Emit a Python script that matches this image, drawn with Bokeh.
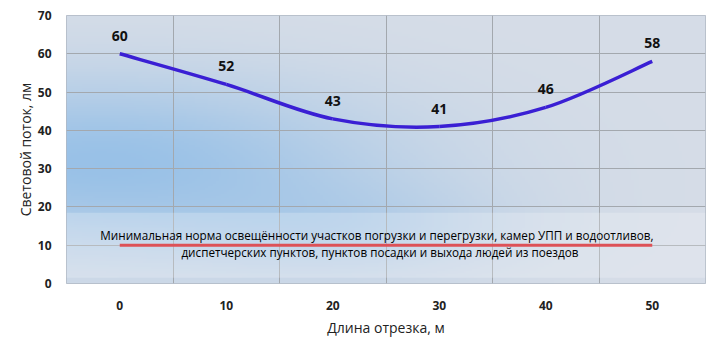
import numpy as np
from bokeh.plotting import figure
from bokeh.models import FixedTicker, Range1d, BoxAnnotation, ColumnDataSource, Label
from bokeh.core.properties import value
from bokeh.embed import file_html
from bokeh.resources import INLINE

# ---- data ----
lengths = [0, 10, 20, 30, 40, 50]
flux = [60, 52, 43, 41, 46, 58]
norm_value = 10
x_ticks = [0, 10, 20, 30, 40, 50]
y_ticks = [0, 10, 20, 30, 40, 50, 60, 70]
x_label = "Длина отрезка, м"
y_label = "Световой поток, лм"
note_line1 = "Минимальная  норма освещённости  участков  погрузки  и перегрузки, камер  УПП  и водоотливов,"
note_line2 = "диспетчерских  пунктов,  пунктов  посадки  и выхода людей из поездов"

p = figure(width=720, height=348, output_backend="svg", toolbar_location=None,
           x_range=Range1d(-5, 55), y_range=Range1d(0, 70),
           min_border_left=66, min_border_right=15, min_border_top=15, min_border_bottom=65)
p.background_fill_color = "#d6dde7"
p.border_fill_color = "white"
p.outline_line_color = "#b0b8c4"

# gradient background (decoration)
H, W = 140, 240
u = np.linspace(0, 1, W)[None, :]
v = np.linspace(0, 1, H)[:, None]
w = np.exp(-((u - 0.05) / 0.45) ** 2 - ((v - 0.45) / 0.32) ** 2) * 0.95
w = w + 0.35 * np.exp(-((u - 0.45) / 0.25) ** 2 - ((v - 0.2) / 0.18) ** 2)
w = np.clip(w, 0, 1)
light = np.array([214, 221, 231])
blue = np.array([150, 192, 232])
rgb = light[None, None, :] * (1 - w[..., None]) + blue[None, None, :] * w[..., None]
img = np.zeros((H, W), dtype=np.uint32)
view = img.view(dtype=np.uint8).reshape((H, W, 4))
view[..., 0] = rgb[..., 0].astype(np.uint8)
view[..., 1] = rgb[..., 1].astype(np.uint8)
view[..., 2] = rgb[..., 2].astype(np.uint8)
view[..., 3] = 255
p.image_rgba(image=[img], x=-5, y=0, dw=60, dh=70, level="image")

# watermark band (light)
p.add_layout(BoxAnnotation(bottom=1.5, top=18.5, fill_color="white", fill_alpha=0.22, line_alpha=0))

# grid
p.xgrid.ticker = FixedTicker(ticks=[5, 15, 25, 35, 45])
p.ygrid.ticker = FixedTicker(ticks=y_ticks)
p.xgrid.grid_line_color = "#a3a8ae"
p.ygrid.grid_line_color = "#a3a8ae"
p.xgrid.level = "underlay"
p.ygrid.level = "underlay"

# axes
p.xaxis.ticker = FixedTicker(ticks=x_ticks)
p.yaxis.ticker = FixedTicker(ticks=y_ticks)
for ax in (p.xaxis[0], p.yaxis[0]):
    ax.axis_line_color = None
    ax.major_tick_line_color = None
    ax.minor_tick_line_color = None
    ax.major_label_text_font = "Open Sans"
    ax.major_label_text_font_style = "bold"
    ax.major_label_text_font_size = "12px"
    ax.major_label_text_color = "#222222"
    ax.axis_label_text_font = "Open Sans"
    ax.axis_label_text_font_style = "normal"
    ax.axis_label_text_font_size = "14px"
    ax.axis_label_text_color = "#222222"
p.xaxis.axis_label = x_label
p.yaxis.axis_label = y_label
p.xaxis.major_label_standoff = 11
p.xaxis.axis_label_standoff = 5
p.yaxis.major_label_standoff = 9
p.yaxis.axis_label_standoff = 0

# smooth curve through data (Excel-style bezier)
xs = np.array(lengths, dtype=float)
ys = np.array(flux, dtype=float)
n = len(xs)
x0, y0, x1, y1, cx0, cy0, cx1, cy1 = [], [], [], [], [], [], [], []
for i in range(n - 1):
    im = max(i - 1, 0)
    ip2 = min(i + 2, n - 1)
    x0.append(xs[i]); y0.append(ys[i])
    x1.append(xs[i + 1]); y1.append(ys[i + 1])
    cx0.append(xs[i] + (xs[i + 1] - xs[im]) / 6)
    cy0.append(ys[i] + (ys[i + 1] - ys[im]) / 6)
    cx1.append(xs[i + 1] - (xs[ip2] - xs[i]) / 6)
    cy1.append(ys[i + 1] - (ys[ip2] - ys[i]) / 6)
p.bezier(x0=x0, y0=y0, x1=x1, y1=y1, cx0=cx0, cy0=cy0, cx1=cx1, cy1=cy1,
         line_color="#3a1fd4", line_width=3.5)

# value labels
src = ColumnDataSource(dict(x=lengths, y=flux, t=[str(v) for v in flux]))
p.text(x="x", y="y", text="t", source=src, text_font=value("Open Sans"),
       text_font_style="bold", text_font_size="14px", text_color="#111111",
       text_align="center", text_baseline="bottom", y_offset=-13)

# norm line
p.line(x=[lengths[0], lengths[-1]], y=[norm_value, norm_value], line_color="#d42028", line_width=3)

# note text
mid = (lengths[0] + lengths[-1]) / 2
p.add_layout(Label(x=mid, y=norm_value, text=note_line1, text_align="center", text_baseline="middle",
                   y_offset=10, text_font="Open Sans", text_font_size="11.7px", text_color="#000000"))
p.add_layout(Label(x=mid, y=norm_value, text=note_line2, text_align="center", text_baseline="middle",
                   y_offset=-7, text_font="Open Sans", text_font_size="11.7px", text_color="#000000"))

open("out.html", "w").write(file_html(p, INLINE))
